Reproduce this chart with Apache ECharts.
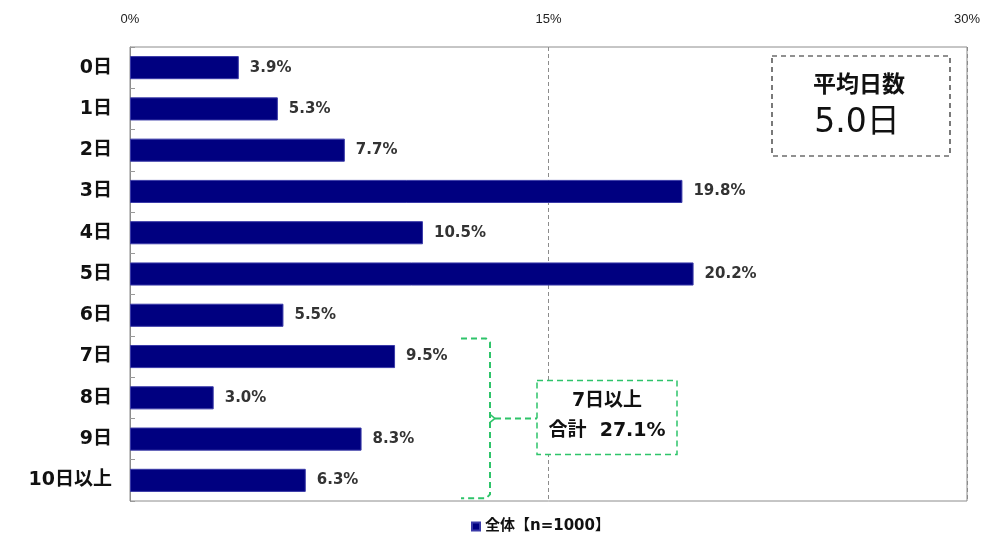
<!DOCTYPE html>
<html>
<head>
<meta charset="utf-8">
<script src="https://cdn.jsdelivr.net/npm/echarts@6/dist/echarts.min.js"></script>
<style>
  html, body { margin: 0; padding: 0; background: #fff; }
  #chart { width: 989px; height: 544px; }
</style>
</head>
<body>
<div id="chart"></div>
<script>
// Number of days (share of respondents, %)
const categories = ['0日', '1日', '2日', '3日', '4日', '5日', '6日', '7日', '8日', '9日', '10日以上'];
const values = [3.9, 5.3, 7.7, 19.8, 10.5, 20.2, 5.5, 9.5, 3.0, 8.3, 6.3];
const axisTicks = [0, 15, 30];
const seriesName = '全体【n=1000】';
const averageDays = '5.0日';
const sevenPlusFrom = 7; // index of "7日"

// Latin glyphs from DejaVu, kanji fall back to Noto CJK
const FONT = '"DejaVu Sans", "Noto Sans CJK JP", sans-serif';
const sevenPlusTotal = values.slice(sevenPlusFrom).reduce((a, b) => a + b, 0).toFixed(1);

const chart = echarts.init(document.getElementById('chart'));

const option = {
  animation: false,
  textStyle: { fontFamily: FONT },
  grid: {
    left: 130, right: 22, top: 47, bottom: 43,
    show: true, borderColor: '#8c8c8c', borderWidth: 1
  },
  xAxis: {
    type: 'value',
    position: 'top',
    min: axisTicks[0],
    max: axisTicks[axisTicks.length - 1],
    interval: axisTicks[1] - axisTicks[0],
    axisLine: { show: false },
    axisTick: { show: false },
    axisLabel: {
      formatter: '{value}%',
      color: '#222',
      fontSize: 13,
      fontFamily: '"Liberation Sans Narrow", "Liberation Sans", sans-serif',
      margin: 21
    },
    splitLine: { show: true, lineStyle: { color: '#8c8c8c', type: [4, 3], width: 1 } }
  },
  yAxis: {
    type: 'category',
    inverse: true,
    data: categories,
    axisLine: { show: true, lineStyle: { color: '#8c8c8c' } },
    axisTick: { show: true, inside: true, length: 5, lineStyle: { color: '#999' } },
    axisLabel: {
      color: '#111',
      fontSize: 19,
      fontWeight: 'bold',
      fontFamily: FONT,
      margin: 18,
      padding: [4, 0, 0, 0]
    }
  },
  legend: {
    bottom: 5,
    left: 466,
    icon: 'rect',
    itemWidth: 8,
    itemHeight: 8,
    itemGap: 6,
    textStyle: { fontSize: 15, fontWeight: 'bold', color: '#111', fontFamily: FONT },
    data: [seriesName]
  },
  series: [{
    name: seriesName,
    type: 'bar',
    data: values,
    barCategoryGap: '44%',
    itemStyle: { color: '#000080', borderColor: '#3a3aa8', borderWidth: 1 },
    label: {
      show: true,
      position: 'right',
      distance: 11,
      formatter: p => p.value.toFixed(1) + '%',
      color: '#333',
      fontSize: 15,
      fontWeight: 'bold',
      fontFamily: FONT,
      padding: [3, 0, 0, 0]
    }
  }]
};

chart.setOption(option);

// Annotation: bracket grouping 7日 and above, plus the summary boxes
function buildGraphics() {
  const green = '#2ec46a';
  const dash = [6, 4];
  const yTop = chart.convertToPixel({ yAxisIndex: 0 }, categories[sevenPlusFrom]) - 18;
  const yBot = chart.convertToPixel({ yAxisIndex: 0 }, categories[categories.length - 1]) + 18;
  const yMid = (yTop + yBot) / 2;
  const xL = 461, xR = 490, r = 4;
  const boxL = 537, boxR = 677, boxT = yMid - 38, boxB = yMid + 36;

  return [
    {
      type: 'polyline',
      shape: { points: [[xL, yTop], [xR - r, yTop], [xR, yTop + r], [xR, yBot - r], [xR - r, yBot], [xL, yBot]] },
      style: { stroke: green, lineWidth: 2, lineDash: dash, fill: null },
      z: 10
    },
    {
      type: 'polyline',
      shape: { points: [[xR, yMid - 4], [xR + 5, yMid], [xR, yMid + 4]] },
      style: { stroke: green, lineWidth: 1.5, fill: null },
      z: 10
    },
    {
      type: 'line',
      shape: { x1: xR + 5, y1: yMid, x2: boxL, y2: yMid },
      style: { stroke: green, lineWidth: 2, lineDash: dash },
      z: 10
    },
    {
      type: 'rect',
      shape: { x: boxL, y: boxT, width: boxR - boxL, height: boxB - boxT },
      style: { fill: '#fff', stroke: green, lineWidth: 1.5, lineDash: dash },
      z: 10
    },
    {
      type: 'text',
      x: (boxL + boxR) / 2, y: boxT + 21,
      style: { text: '7日以上', fontSize: 19, fontWeight: 'bold', fill: '#111', fontFamily: FONT, align: 'center', verticalAlign: 'middle' },
      z: 11
    },
    {
      type: 'text',
      x: (boxL + boxR) / 2, y: boxT + 51,
      style: { text: '合計  ' + sevenPlusTotal + '%', fontSize: 19, fontWeight: 'bold', fill: '#111', fontFamily: FONT, align: 'center', verticalAlign: 'middle' },
      z: 11
    },
    {
      type: 'rect',
      shape: { x: 772, y: 56, width: 178, height: 100 },
      style: { fill: '#fff', stroke: '#222', lineWidth: 1.2, lineDash: [5, 4] },
      z: 10
    },
    {
      type: 'text',
      x: 859, y: 86,
      style: { text: '平均日数', fontSize: 23, fontWeight: 'bold', fill: '#111', fontFamily: FONT, align: 'center', verticalAlign: 'middle' },
      z: 11
    },
    {
      type: 'text',
      x: 857, y: 123,
      style: { text: averageDays, fontSize: 33, fill: '#111', fontFamily: FONT, align: 'center', verticalAlign: 'middle' },
      z: 11
    }
  ];
}

chart.setOption({ graphic: buildGraphics() });
</script>
</body>
</html>
